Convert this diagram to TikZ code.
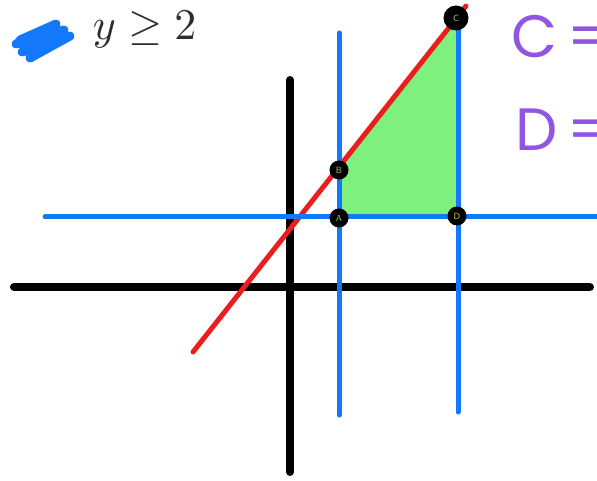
\documentclass[tikz,border=0pt]{standalone}
\usepackage{amsmath,amssymb}
\usepackage{fontspec}
\newfontfamily\handfont{Poppins}
\usetikzlibrary{positioning}
\definecolor{lineblue}{RGB}{20,120,250}
\definecolor{linered}{RGB}{235,30,30}
\definecolor{areagreen}{RGB}{125,240,125}
\definecolor{lblgreen}{RGB}{160,200,110}
\definecolor{penpurple}{RGB}{145,85,225}
\definecolor{inkgray}{RGB}{45,45,45}

\begin{document}
\begin{tikzpicture}[x=1bp, y=-1bp, line cap=round, line join=round,
  axis/.style={line width=8bp, black},
  bline/.style={line width=5bp, lineblue},
  rline/.style={line width=5bp, linered},
  pt/.style={circle, fill=black, minimum size=19bp, inner sep=0pt, text=lblgreen, font=\sffamily\fontsize{9}{9}\selectfont},
  pen/.style={text=penpurple, font=\handfont\fontsize{60}{60}\selectfont, anchor=west}]
\useasboundingbox (0,0) rectangle (597,481);
\clip (0,0) rectangle (597,481);
\coordinate (xl) at (14,287); \coordinate (xr) at (590,287);
\coordinate (yb) at (290,472); \coordinate (yt) at (290,80);
\coordinate (hl) at (45,217);  \coordinate (hr) at (605,217);
\coordinate (v1b) at (339,415); \coordinate (v1t) at (339,33);
\coordinate (v2b) at (458,412); \coordinate (v2t) at (458,15);
\coordinate (r0) at (193,352); \coordinate (r1) at (466,6);
% shaded region
\fill[areagreen] (339,217) -- (339,170) -- (456,19) -- (458,217) -- cycle;
\draw[axis] (xl) -- (xr);
\draw[axis] (yb) -- (yt);
\draw[rline] (r0) -- (r1);
\draw[bline] (hl) -- (hr);
\draw[bline] (v1b) -- (v1t);
\draw[bline] (v2b) -- (v2t);
\node[pt] (A) at (339,218) {A};
\node[pt] (B) at (339,170) {B};
\node[pt, minimum size=25bp, text=lightgray] (C) at (456,18) {C};
\node[pt, text=lblgreen!70!yellow] (D) at (457,216) {D};
% note top left
\draw[lineblue, line width=9bp] (20,40) -- (56,24) -- (16,44) -- (64,30) -- (22,52) -- (70,36) -- (30,58);
\node[text=inkgray, scale=4.4, anchor=base west, inner sep=0pt] (cond) at (92,40) {$y \geq 2$};
\node[pen] (ceq) at (508,37) {C\hspace{-6pt} =};
\node[pen] (deq) at (512,130) {D\hspace{-6pt} =};
\end{tikzpicture}
\end{document}
